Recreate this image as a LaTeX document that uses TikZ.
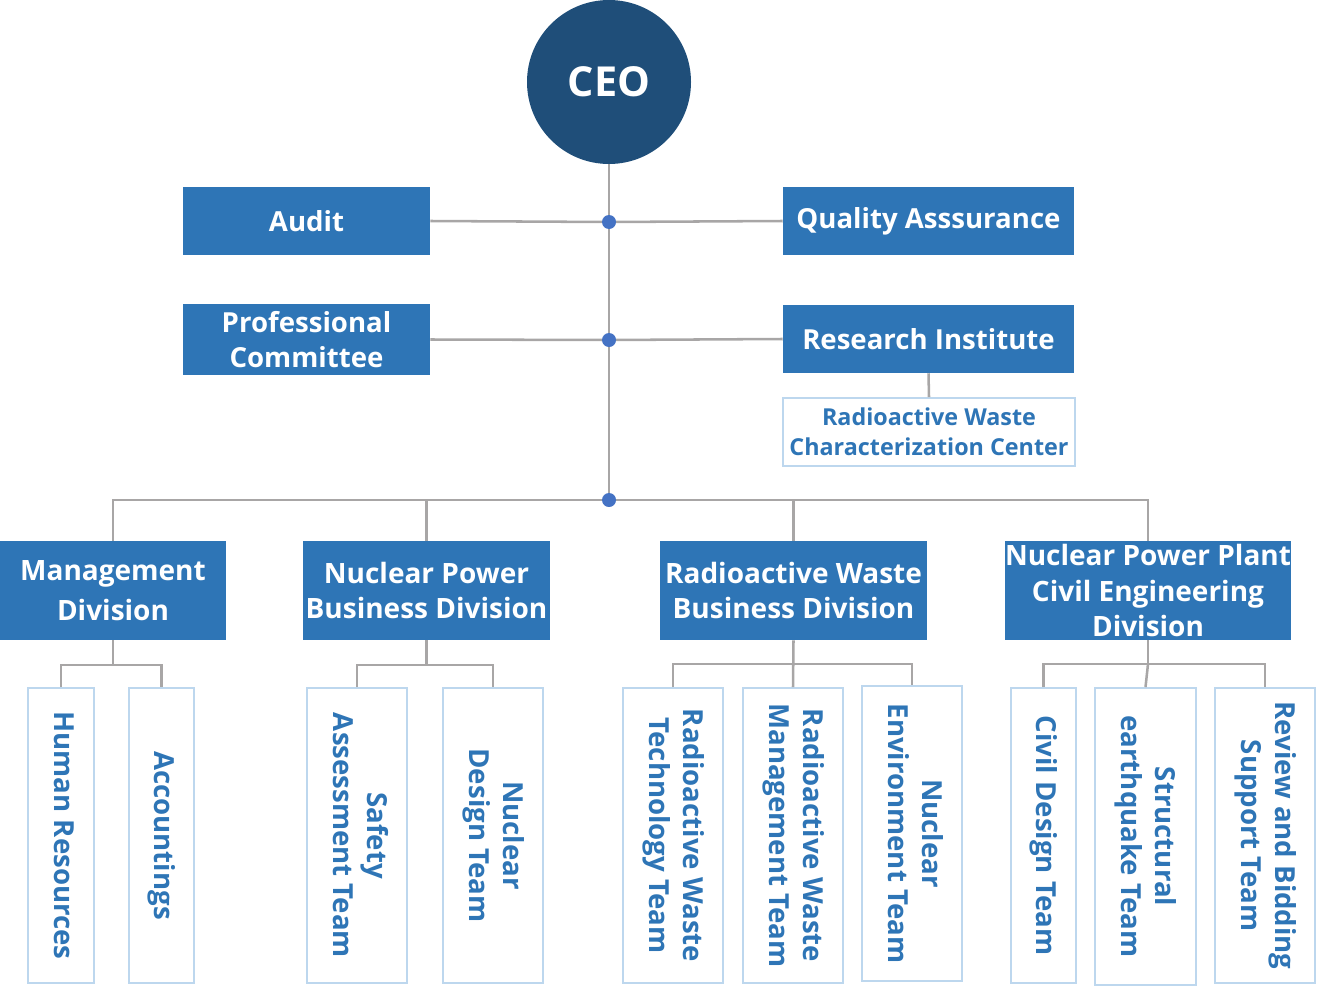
\documentclass[tikz,border=0pt]{standalone}
\usepackage{fontspec}
\setmainfont{Open Sans}
\definecolor{boxblue}{RGB}{46,117,182}
\definecolor{ceoblue}{RGB}{31,78,121}
\definecolor{lgray}{RGB}{168,166,166}
\definecolor{lborder}{RGB}{189,215,238}
\definecolor{dotblue}{RGB}{68,114,196}
\newcommand{\vtext}[1]{\rotatebox{-90}{\begin{tabular}{@{}c@{}}#1\end{tabular}}}
\tikzset{
  sz/.style 2 args={minimum width=#1*0.75pt, minimum height=#2*0.75pt},
  darkbox/.style={fill=boxblue, text=white, inner sep=0pt, align=center,
    font=\bfseries\fontsize{20.7}{26.5}\selectfont},
  lightbox/.style={draw=lborder, line width=1.4pt, fill=white, text=boxblue, inner sep=0pt, align=center},
  teambox/.style={lightbox, font=\bfseries\fontsize{20.7}{25.5}\selectfont},
  conn/.style={draw=lgray, line width=1.9pt},
  dot/.style={circle, fill=dotblue, minimum size=10.5pt, inner sep=0pt},
}
\begin{document}
\begin{tikzpicture}[x=0.75pt, y=-0.75pt]
\useasboundingbox (0,0) rectangle (1317,1003);
% CEO
\node[circle, fill=ceoblue, text=white, minimum size=164*0.75pt, inner sep=0pt,
  font=\bfseries\fontsize{31}{36}\selectfont] (ceo) at (609,82) {CEO};
% dots
\coordinate (d1) at (609,222);
\coordinate (d2) at (609,340);
\coordinate (d3) at (609,500);
% top boxes
\node[darkbox, sz={247}{68}] (audit) at (306.5,221) {Audit};
\node[darkbox, sz={291}{68}] (qa) at (928.5,221) {Quality Asssurance};
\node[darkbox, sz={247}{71}] (prof) at (306.5,339.5) {Professional\\Committee};
\node[darkbox, sz={291}{68}] (ri) at (928.5,339) {Research Institute};
\node[lightbox, sz={292}{68}, font=\bfseries\fontsize{17.5}{22.5}\selectfont] (rwcc) at (929,432)
  {Radioactive Waste\\Characterization Center};
% divisions
\node[darkbox, sz={226}{99}, font=\bfseries\fontsize{21}{30.5}\selectfont] (mgmt) at (113,590.5) {Management\\Division};
\node[darkbox, sz={247}{99}, font=\bfseries\fontsize{21}{26.5}\selectfont] (npb) at (426.5,590.5) {Nuclear Power\\Business Division};
\node[darkbox, sz={267}{99}, font=\bfseries\fontsize{21}{26.5}\selectfont] (rwb) at (793.5,590.5) {Radioactive Waste\\Business Division};
\node[darkbox, sz={286}{99}, font=\bfseries\fontsize{21}{26.8}\selectfont] (npp) at (1148,590.5)
  {Nuclear Power Plant\\Civil Engineering\\[-1pt]Division};
% teams
\node[teambox, sz={66}{295}] (hr) at (61,835.5) {\vtext{Human Resources}};
\node[teambox, sz={65}{295}] (acc) at (161.5,835.5) {\vtext{Accountings}};
\node[teambox, sz={100}{295}] (sat) at (357,835.5) {\vtext{Safety\\Assessment Team}};
\node[teambox, sz={100}{295}] (ndt) at (493,835.5) {\vtext{Nuclear\\Design Team}};
\node[teambox, sz={100}{295}] (rwt) at (673,835.5) {\vtext{Radioactive Waste\\Technology Team}};
\node[teambox, sz={100}{295}] (rwm) at (793,835.5) {\vtext{Radioactive Waste\\Management Team}};
\node[teambox, sz={100}{295}] (net) at (912,833.5) {\vtext{Nuclear\\Environment Team}};
\node[teambox, sz={65}{295}] (cdt) at (1043.5,835.5) {\vtext{Civil Design Team}};
\node[teambox, sz={101}{297}] (seq) at (1145.5,836.5) {\vtext{Structural\\earthquake Team}};
\node[teambox, sz={100}{295}] (rbs) at (1265,835.5) {\vtext{Review and Bidding\\Support Team}};
% connectors
\draw[conn] (ceo.south) -- (d3);
\draw[conn] (audit.east) -- (d1) -- (qa.west);
\draw[conn] (prof.east) -- (d2) -- (ri.west);
\draw[conn] (ri.south) -- (rwcc.north);
\draw[conn] (mgmt.north) |- (d3) -| (npp.north);
\draw[conn] (npb.north) -- (npb.north |- d3);
\draw[conn] (rwb.north) -- (rwb.north |- d3);
% team connectors
\coordinate (m1) at (113,665);
\draw[conn] (mgmt.south) -- (m1);
\draw[conn] (hr.north) |- (m1) -| (acc.north);
\coordinate (m2) at (426.5,665);
\draw[conn] (npb.south) -- (m2);
\draw[conn] (sat.north) |- (m2) -| (ndt.north);
\coordinate (m3) at (793.5,664);
\draw[conn] (rwb.south) -- (rwm.north);
\draw[conn] (rwt.north) |- (m3) -| (net.north);
\coordinate (m4) at (1148,664);
\draw[conn] (npp.south) -- (m4);
\draw[conn] (cdt.north) |- (m4) -| (rbs.north);
\draw[conn] (m4) -- (seq.north);
% dots on top
\node[dot] (dot1) at (d1) {};
\node[dot] (dot2) at (d2) {};
\node[dot] (dot3) at (d3) {};
\end{tikzpicture}
\end{document}
